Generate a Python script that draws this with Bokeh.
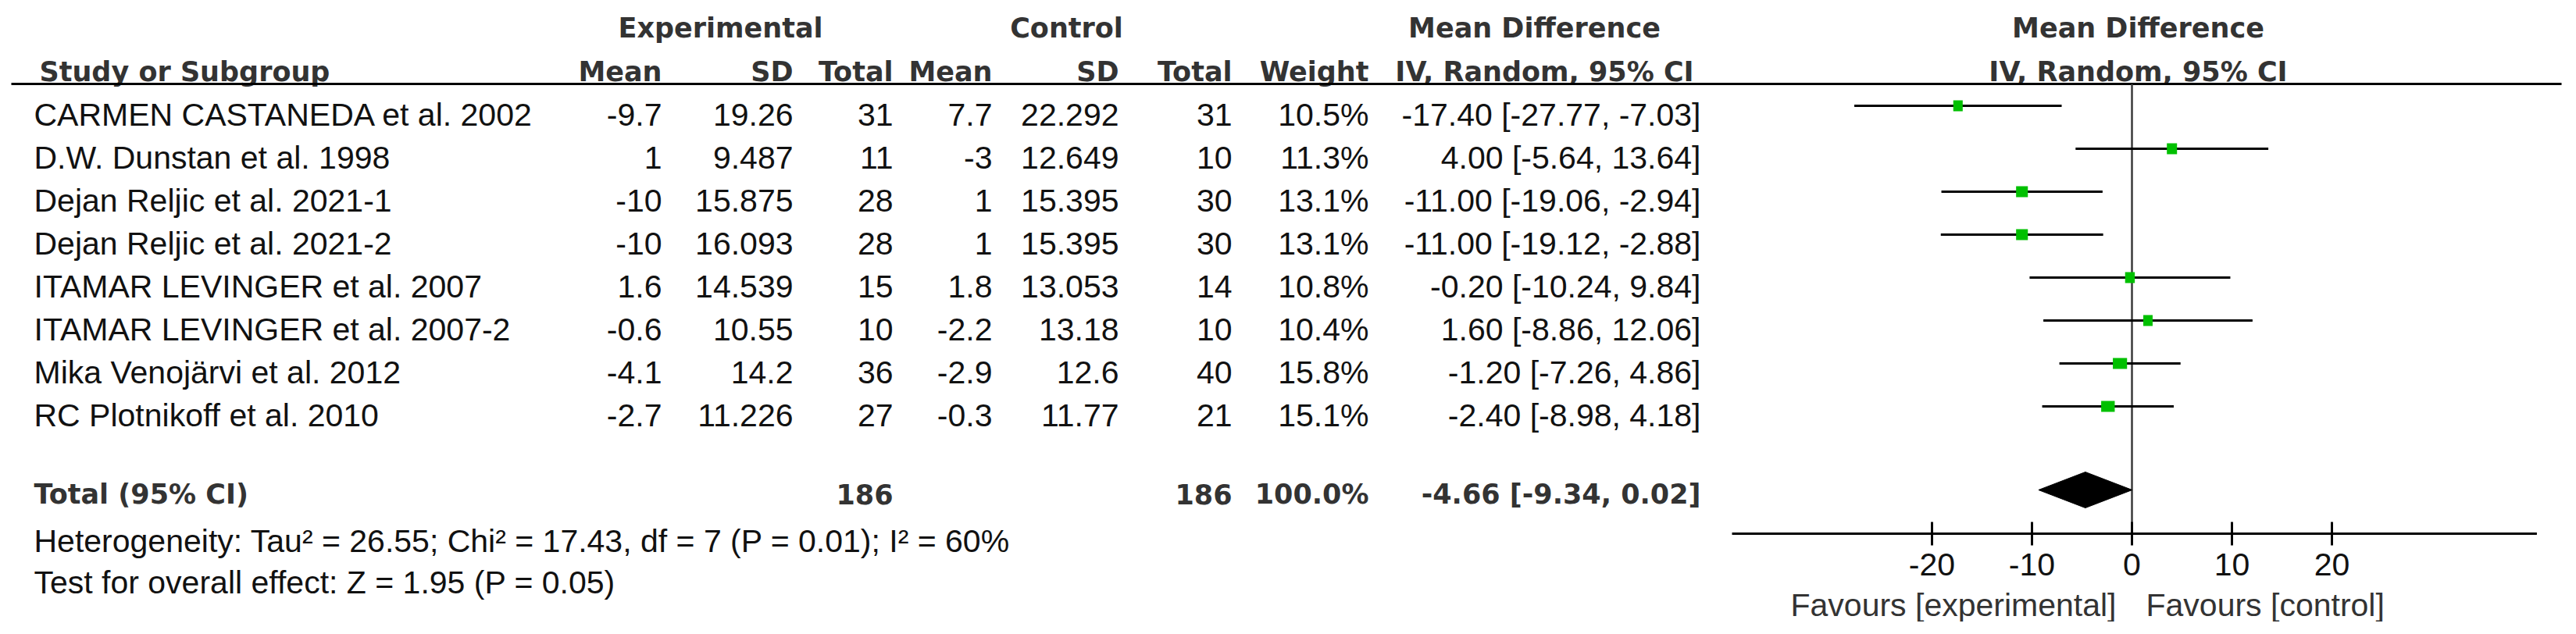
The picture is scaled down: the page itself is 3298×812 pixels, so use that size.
from bokeh.plotting import figure
from bokeh.models import ColumnDataSource, Range1d
from bokeh.core.properties import value
from bokeh.embed import file_html
from bokeh.resources import INLINE

# ---------------- data ----------------
studies = ["CARMEN CASTANEDA et al. 2002", "D.W. Dunstan et al. 1998",
           "Dejan Reljic et al. 2021-1", "Dejan Reljic et al. 2021-2",
           "ITAMAR LEVINGER et al. 2007", "ITAMAR LEVINGER et al. 2007-2",
           "Mika Venojärvi et al. 2012", "RC Plotnikoff et al. 2010"]
exp_mean = [-9.7, 1, -10, -10, 1.6, -0.6, -4.1, -2.7]
exp_sd = [19.26, 9.487, 15.875, 16.093, 14.539, 10.55, 14.2, 11.226]
exp_n = [31, 11, 28, 28, 15, 10, 36, 27]
ctl_mean = [7.7, -3, 1, 1, 1.8, -2.2, -2.9, -0.3]
ctl_sd = [22.292, 12.649, 15.395, 15.395, 13.053, 13.18, 12.6, 11.77]
ctl_n = [31, 10, 30, 30, 14, 10, 40, 21]
weight = [10.5, 11.3, 13.1, 13.1, 10.8, 10.4, 15.8, 15.1]
md = [-17.40, 4.00, -11.00, -11.00, -0.20, 1.60, -1.20, -2.40]
ci_lo = [-27.77, -5.64, -19.06, -19.12, -10.24, -8.86, -7.26, -8.98]
ci_hi = [-7.03, 13.64, -2.94, -2.88, 9.84, 12.06, 4.86, 4.18]
total_exp_n = 186
total_ctl_n = 186
total_weight = 100.0
total_md = -4.66
total_lo = -9.34
total_hi = 0.02
heterogeneity = "Heterogeneity: Tau² = 26.55; Chi² = 17.43, df = 7 (P = 0.01); I² = 60%"
overall = "Test for overall effect: Z = 1.95 (P = 0.05)"
axis_ticks = [-20, -10, 0, 10, 20]
axis_bounds = [-40, 40.5]
fav_left = "Favours [experimental]"
fav_right = "Favours [control]"

# ---------------- layout ----------------
W, H = 3282, 796
X0, X1 = 0, W
Y0, Y1 = 0, H
ZERO_PX, PX_PER_UNIT = 2729, 12.8
ROW0, ROW_H = 146, 55          # text centre of first study row
MARK_OFF = -11                 # marker centre relative to text centre
HDR1_Y, HDR2_Y = 35, 91
HDR_LINE_Y = 107
TOTAL_Y = 632
HET_Y, TEST_Y = 692, 745
AXIS_Y = 683
TICK_HALF = 15
TICKLAB_Y = 722
FAV_Y = 774

NORMAL = value("Liberation Sans")
BOLD = value("DejaVu Sans")
FS = "41px"
BFS = "35px"
TXT = "#111111"
HTXT = "#333333"

p = figure(width=W, height=H, x_range=Range1d(X0, X1), y_range=Range1d(Y1, Y0),
           x_axis_type=None, y_axis_type=None, toolbar_location=None,
           output_backend="svg", min_border=0, outline_line_color=None,
           background_fill_color="white", border_fill_color="white")
p.grid.visible = False
p.extra_x_ranges = {"md": Range1d((X0 - ZERO_PX) / PX_PER_UNIT, (X1 - ZERO_PX) / PX_PER_UNIT)}

n = len(studies)
row_y = [ROW0 + i * ROW_H for i in range(n)]
mark_y = [r + MARK_OFF for r in row_y]

def fmt(v):
    return f"{v:g}"

src = ColumnDataSource(dict(
    study=studies,
    em=[fmt(v) for v in exp_mean], es=[fmt(v) for v in exp_sd], en=[str(v) for v in exp_n],
    cm=[fmt(v) for v in ctl_mean], cs=[fmt(v) for v in ctl_sd], cn=[str(v) for v in ctl_n],
    w=[f"{v:.1f}%" for v in weight],
    ci=[f"{a:.2f} [{b:.2f}, {c:.2f}]" for a, b, c in zip(md, ci_lo, ci_hi)],
    md=md, lo=ci_lo, hi=ci_hi,
    ty=row_y, my=mark_y,
    sq=[1.15 * v for v in weight],
))

# column right edges (pixels)
COLS = {"em": 847, "es": 1015, "en": 1143, "cm": 1270, "cs": 1432, "cn": 1577, "w": 1752, "ci": 2177}

# ---------- headers ----------
def htext(x, y, t, align="center", font=BOLD, size=BFS, color=HTXT):
    p.text(x=[x], y=[y], text=[t], text_align=align, text_baseline="middle",
           text_font=font, text_font_size=size, text_font_style="bold" if font is BOLD else "normal",
           text_color=color)

htext(922, HDR1_Y, "Experimental")
htext(1365, HDR1_Y, "Control")
htext(1964, HDR1_Y, "Mean Difference")
htext(2737, HDR1_Y, "Mean Difference")
htext(50, HDR2_Y, "Study or Subgroup", align="left")
for key, lab in [("em", "Mean"), ("es", "SD"), ("en", "Total"), ("cm", "Mean"),
                 ("cs", "SD"), ("cn", "Total"), ("w", "Weight")]:
    htext(COLS[key], HDR2_Y, lab, align="right")
htext(1977, HDR2_Y, "IV, Random, 95% CI")
htext(2737, HDR2_Y, "IV, Random, 95% CI")

p.segment(x0=[14], x1=[3279], y0=[HDR_LINE_Y], y1=[HDR_LINE_Y], line_color="black", line_width=3)

# ---------- study rows ----------
p.text(x=43, y="ty", text="study", source=src, text_align="left", text_baseline="middle",
       text_font=NORMAL, text_font_size=FS, text_color=TXT)
for key, xr in COLS.items():
    p.text(x=xr, y="ty", text=key, source=src, text_align="right", text_baseline="middle",
           text_font=NORMAL, text_font_size=FS, text_color=TXT)

# ---------- total row ----------
htext(43, TOTAL_Y, "Total (95% CI)", align="left")
htext(COLS["en"], TOTAL_Y, str(total_exp_n), align="right")
htext(COLS["cn"], TOTAL_Y, str(total_ctl_n), align="right")
htext(COLS["w"], TOTAL_Y, f"{total_weight:.1f}%", align="right")
htext(COLS["ci"], TOTAL_Y, f"{total_md:.2f} [{total_lo:.2f}, {total_hi:.2f}]", align="right")

htext(43, HET_Y, heterogeneity, align="left", font=NORMAL, size=FS, color=TXT)
htext(43, TEST_Y, overall, align="left", font=NORMAL, size=FS, color=TXT)

# ---------- forest ----------
p.segment(x0=[0], x1=[0], y0=[HDR_LINE_Y], y1=[AXIS_Y], x_range_name="md",
          line_color="#3a3a3a", line_width=2.5)
p.segment(x0="lo", x1="hi", y0="my", y1="my", source=src, x_range_name="md",
          line_color="black", line_width=3)
p.rect(x="md", y="my", width="sq", height=14, width_units="screen", height_units="screen",
       source=src, x_range_name="md", fill_color="#00c000", line_color=None)

dc = TOTAL_Y - 5
p.patch(x=[total_lo, total_md, total_hi, total_md], y=[dc, dc - 23, dc, dc + 23],
        x_range_name="md", fill_color="black", line_color="black")

# x axis of the forest panel
p.segment(x0=[axis_bounds[0]], x1=[axis_bounds[1]], y0=[AXIS_Y], y1=[AXIS_Y], x_range_name="md",
          line_color="black", line_width=3)
p.segment(x0=axis_ticks, x1=axis_ticks, y0=[AXIS_Y - TICK_HALF] * len(axis_ticks),
          y1=[AXIS_Y + TICK_HALF] * len(axis_ticks), x_range_name="md",
          line_color="black", line_width=3)
p.text(x=axis_ticks, y=[TICKLAB_Y] * len(axis_ticks), text=[str(t) for t in axis_ticks],
       x_range_name="md", text_align="center", text_baseline="middle",
       text_font=NORMAL, text_font_size=FS, text_color=TXT)

p.text(x=[0], y=[FAV_Y], text=[fav_left], x_range_name="md", x_offset=-20, text_align="right",
       text_baseline="middle", text_font=NORMAL, text_font_size=FS, text_color=HTXT)
p.text(x=[0], y=[FAV_Y], text=[fav_right], x_range_name="md", x_offset=18, text_align="left",
       text_baseline="middle", text_font=NORMAL, text_font_size=FS, text_color=HTXT)

open("out.html", "w").write(file_html(p, INLINE))
